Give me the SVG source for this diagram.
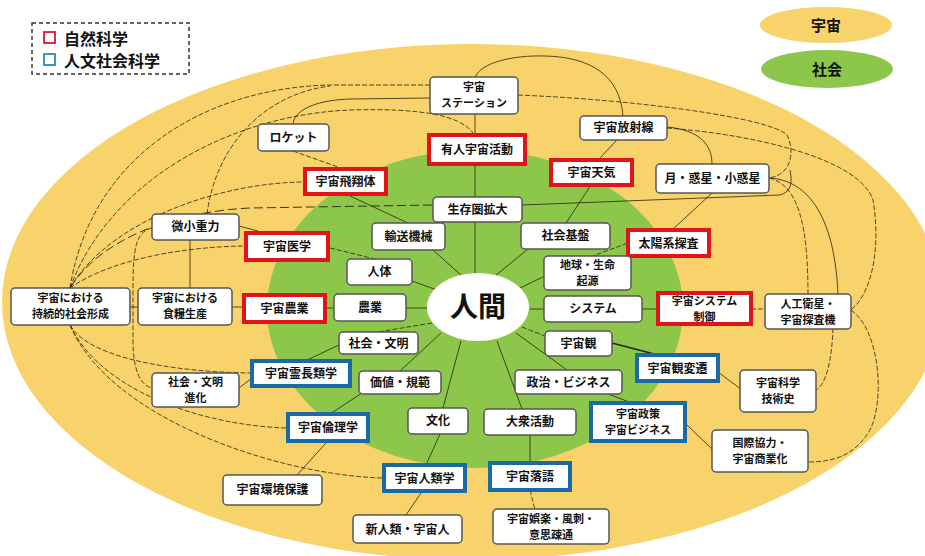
<svg xmlns="http://www.w3.org/2000/svg" width="925" height="556" viewBox="0 0 925 556">
<defs>
<style>
text{font-family:"Noto Sans CJK JP","Noto Sans CJK SC",sans-serif;font-weight:700;fill:#111;text-anchor:middle}
.t{font-size:12px}
.t2{font-size:11px}
.n{fill:#fff;stroke:#555;stroke-width:1.5}
.r{fill:#fff;stroke:#e0141b;stroke-width:4}
.b{fill:#fff;stroke:#1a6aa6;stroke-width:4}
.c{fill:none;stroke:#2b2010;stroke-width:0.8}
.d{fill:none;stroke:#2b2010;stroke-width:0.8;stroke-dasharray:5 2}
.ld{fill:none;stroke:#2b2010;stroke-width:0.9;stroke-dasharray:9 4}
</style>
</defs>
<rect width="925" height="556" fill="#fff"/>
<g id="bg">
<ellipse cx="472" cy="302" rx="470" ry="258" fill="#f8d36b"/>
<ellipse cx="475" cy="309" rx="208" ry="159" fill="#8cc74c"/>
</g>
<g id="legend">
<rect x="32" y="23" width="157" height="51" fill="#fff" stroke="#333" stroke-width="1.5" stroke-dasharray="4 3"/>
<rect x="44" y="32" width="11" height="11" fill="none" stroke="#d02030" stroke-width="1.8"/>
<text x="64" y="45" style="font-size:16px;text-anchor:start">自然科学</text>
<rect x="44" y="54" width="11" height="11" fill="none" stroke="#2b8ac0" stroke-width="1.8"/>
<text x="64" y="67" style="font-size:16px;text-anchor:start">人文社会科学</text>
<ellipse cx="826" cy="25" rx="66" ry="18" fill="#f8d36b"/>
<text x="826" y="31" style="font-size:15px">宇宙</text>
<ellipse cx="827" cy="69" rx="66" ry="19" fill="#8cc74c"/>
<text x="827" y="75" style="font-size:15px">社会</text>
</g>
<g id="connectors">
<path class="c" d="M475,113V133M475,166V197M475,222V273"/>
<path class="c" d="M433,250L462,276M528,249L495,276M547,275L518,289M530,309H544M516,333L567,370M497,341L522,409M461,341L443,408M441,333L400,371M406,308H428M412,281L437,290"/>
<path class="d" d="M522,327L545,336M432,323L378,332"/>
<path class="c" d="M350,196L408,223M327,308H334M232,307H242M130,307H138M190,240V288M239,226L258,231"/>
<path class="d" d="M293,151L338,167M330,248L375,259"/>
<path class="c" d="M239,388L252,378M305,361L339,345M330,414L362,393M326,443L297,475M440,434L426,465M421,493L406,515M530,435V463M608,394L632,403M687,425L713,450M718,372L742,390M642,309H658M672,230L712,193M566,223L591,185M598,160L617,140"/>
<path class="c" style="stroke-width:1.5" d="M612,343L658,355"/>
<path class="d" d="M530,490L535,510M751,309H765M590,257L628,243"/>
<path class="c" d="M667,127C700,130 712,145 712,164"/>
<path class="c" d="M475,78C480,62 515,55 545,56C590,57 620,75 623,116"/>
<path class="d" d="M70,288C90,160 200,88 330,85L430,85"/>
<path class="d" d="M70,288C110,180 230,115 350,110C420,108 460,115 473,133"/>
<path class="d" d="M70,288C110,220 220,183 303,182"/>
<path class="ld" d="M70,288C100,240 170,212 250,208L433,205"/>
<path class="d" d="M70,288C110,260 180,247 244,246"/>
<path class="d" d="M70,325C90,360 180,372 250,373"/>
<path class="d" d="M70,325C100,390 200,425 286,428"/>
<path class="d" d="M70,325C110,420 280,475 382,478"/>
<path class="c" d="M293,124C295,108 320,100 350,99L430,98"/>
<path class="d" d="M207,214C215,150 260,95 330,86"/>
<path class="d" d="M152,228C135,232 133,250 133,290L133,340C133,370 140,385 152,388"/>
<path class="d" d="M518,95C640,100 770,118 787,135C795,150 792,175 769,178"/>
<path class="c" d="M522,205L780,195C790,192 793,185 790,170"/>
<path class="d" d="M667,128C760,135 860,160 873,200C880,240 875,290 851,310"/>
<path class="d" d="M769,178C800,185 808,230 808,295"/>
<path class="c" d="M769,178C810,180 835,220 838,295"/>
<path class="d" d="M851,310C880,330 885,400 870,430C855,455 835,462 808,462"/>
<path class="d" d="M833,328C832,360 826,385 816,390"/>
</g>
<g id="n-ningen"><ellipse cx="478" cy="307" rx="51" ry="34" fill="#fff"/><text x="478" y="317" style="font-size:28px">人間</text></g>
<g id="n-station"><rect class="n" x="430" y="77" width="88" height="37" rx="4"/><text class="t2" x="474" y="91">宇宙</text><text class="t2" x="474" y="107">ステーション</text></g>
<g id="n-rocket"><rect class="n" x="258" y="124" width="71" height="27" rx="4"/><text class="t" x="293.5" y="142">ロケット</text></g>
<g id="n-yujin"><rect class="r" x="429" y="135" width="96" height="29"/><text class="t" x="477" y="154">有人宇宙活動</text></g>
<g id="n-hoshasen"><rect class="n" x="580" y="116" width="87" height="24" rx="4"/><text class="t" x="623.5" y="132">宇宙放射線</text></g>
<g id="n-tenki"><rect class="r" x="551" y="160" width="81" height="25"/><text class="t" x="591.5" y="177">宇宙天気</text></g>
<g id="n-tsuki"><rect class="n" x="656" y="164" width="113" height="29" rx="4"/><text class="t" x="712.5" y="183">月・惑星・小惑星</text></g>
<g id="n-hishotai"><rect class="r" x="305" y="169" width="81" height="25"/><text class="t" x="345.5" y="186">宇宙飛翔体</text></g>
<g id="n-seizonken"><rect class="n" x="433" y="197" width="89" height="25" rx="4"/><text class="t" x="477.5" y="214">生存圏拡大</text></g>
<g id="n-bishojuryoku"><rect class="n" x="152" y="214" width="87" height="26" rx="4"/><text class="t" x="195.5" y="231">微小重力</text></g>
<g id="n-yuso"><rect class="n" x="372" y="223" width="73" height="27" rx="4"/><text class="t" x="408.5" y="241">輸送機械</text></g>
<g id="n-shakaikiban"><rect class="n" x="521" y="223" width="89" height="26" rx="4"/><text class="t" x="565.5" y="240">社会基盤</text></g>
<g id="n-igaku"><rect class="r" x="246" y="233" width="82" height="27"/><text class="t" x="287" y="251">宇宙医学</text></g>
<g id="n-taiyokei"><rect class="r" x="628" y="230" width="81" height="26"/><text class="t" x="668.5" y="248">太陽系探査</text></g>
<g id="n-jintai"><rect class="n" x="347" y="259" width="65" height="26" rx="4"/><text class="t" x="379.5" y="276">人体</text></g>
<g id="n-chikyu"><rect class="n" x="544" y="256" width="87" height="34" rx="4"/><text class="t2" x="587.5" y="269">地球・生命</text><text class="t2" x="587.5" y="285">起源</text></g>
<g id="n-jizoku"><rect class="n" x="11" y="288" width="119" height="37" rx="4"/><text class="t2" x="70.5" y="302">宇宙における</text><text class="t2" x="70.5" y="318">持続的社会形成</text></g>
<g id="n-shokuryo"><rect class="n" x="138" y="288" width="94" height="37" rx="4"/><text class="t2" x="185" y="302">宇宙における</text><text class="t2" x="185" y="318">食糧生産</text></g>
<g id="n-uchunogyo"><rect class="r" x="244" y="295" width="81" height="27"/><text class="t" x="284.5" y="313">宇宙農業</text></g>
<g id="n-nogyo"><rect class="n" x="334" y="294" width="72" height="27" rx="4"/><text class="t" x="370" y="312">農業</text></g>
<g id="n-system"><rect class="n" x="544" y="296" width="98" height="26" rx="4"/><text class="t" x="593" y="313">システム</text></g>
<g id="n-seigyo"><rect class="r" x="658" y="293" width="93" height="31"/><text class="t2" x="704.5" y="305">宇宙システム</text><text class="t2" x="704.5" y="321">制御</text></g>
<g id="n-eisei"><rect class="n" x="765" y="294" width="86" height="35" rx="4"/><text class="t2" x="808" y="308">人工衛星・</text><text class="t2" x="808" y="324">宇宙探査機</text></g>
<g id="n-shakaibunmei"><rect class="n" x="339" y="332" width="79" height="22" rx="4"/><text class="t" x="378.5" y="347.5">社会・文明</text></g>
<g id="n-uchukan"><rect class="n" x="545" y="331" width="67" height="25" rx="4"/><text class="t" x="578.5" y="348">宇宙観</text></g>
<g id="n-reichorui"><rect class="b" x="252" y="361" width="98" height="25"/><text class="t" x="301" y="378">宇宙霊長類学</text></g>
<g id="n-kanhensen"><rect class="b" x="637" y="355" width="81" height="26"/><text class="t" x="677.5" y="373">宇宙観変遷</text></g>
<g id="n-shinka"><rect class="n" x="152" y="373" width="87" height="34" rx="4"/><text class="t2" x="195.5" y="386">社会・文明</text><text class="t2" x="195.5" y="402">進化</text></g>
<g id="n-kachi"><rect class="n" x="359" y="371" width="82" height="23" rx="4"/><text class="t" x="400" y="387">価値・規範</text></g>
<g id="n-seiji"><rect class="n" x="515" y="370" width="107" height="24" rx="4"/><text class="t" x="568.5" y="386.5">政治・ビジネス</text></g>
<g id="n-gijutsushi"><rect class="n" x="740" y="370" width="76" height="42" rx="4"/><text class="t2" x="778" y="387">宇宙科学</text><text class="t2" x="778" y="403">技術史</text></g>
<g id="n-rinri"><rect class="b" x="288" y="414" width="80" height="27"/><text class="t" x="328" y="432">宇宙倫理学</text></g>
<g id="n-bunka"><rect class="n" x="408" y="408" width="60" height="26" rx="4"/><text class="t" x="438" y="425">文化</text></g>
<g id="n-taishu"><rect class="n" x="484" y="409" width="92" height="26" rx="4"/><text class="t" x="530" y="426">大衆活動</text></g>
<g id="n-seisaku"><rect class="b" x="591" y="403" width="94" height="38"/><text class="t2" x="638" y="418">宇宙政策</text><text class="t2" x="638" y="434">宇宙ビジネス</text></g>
<g id="n-kokusai"><rect class="n" x="712" y="430" width="96" height="42" rx="4"/><text class="t2" x="760" y="447">国際協力・</text><text class="t2" x="760" y="463">宇宙商業化</text></g>
<g id="n-jinrui"><rect class="b" x="384" y="465" width="81" height="26"/><text class="t" x="424.5" y="483">宇宙人類学</text></g>
<g id="n-rakugo"><rect class="b" x="490" y="463" width="80" height="27"/><text class="t" x="530" y="481">宇宙落語</text></g>
<g id="n-kankyo"><rect class="n" x="223" y="475" width="99" height="30" rx="4"/><text class="t" x="272.5" y="494">宇宙環境保護</text></g>
<g id="n-shinjinrui"><rect class="n" x="353" y="515" width="109" height="28" rx="4"/><text class="t" x="407.5" y="533.5">新人類・宇宙人</text></g>
<g id="n-goraku"><rect class="n" x="493" y="509" width="116" height="35" rx="4"/><text class="t2" x="551" y="523">宇宙娯楽・風刺・</text><text class="t2" x="551" y="539">意思疎通</text></g>
</svg>
